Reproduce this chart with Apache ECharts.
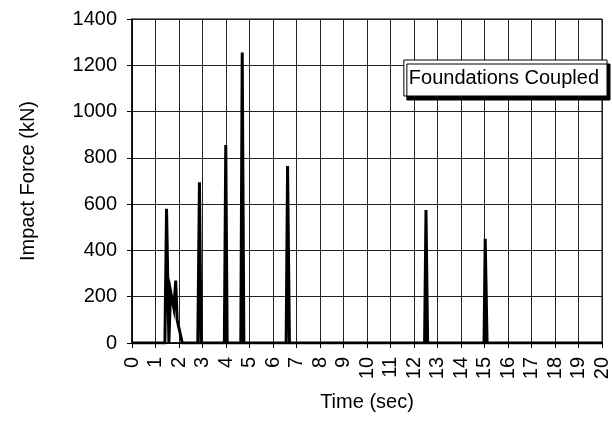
<!DOCTYPE html>
<html><head><meta charset="utf-8">
<script src="https://cdn.jsdelivr.net/npm/echarts@6/dist/echarts.min.js"></script>
<style>html,body{margin:0;padding:0;background:#fff}#c{width:612px;height:434px}</style>
</head><body><div id="c"></div>
<script>
var seriesName = 'Foundations Coupled';
var timeSec = [0, 1.40, 1.47, 1.57, 1.64, 1.72, 1.78, 1.86, 1.92, 2.14, 2.80, 2.87, 2.94, 3.93, 3.99, 4.05, 4.63, 4.69, 4.76, 6.56, 6.62, 6.70, 12.45, 12.51, 12.58, 14.98, 15.03, 15.11, 20];
var forceKN = [0, 0, 580, 0, 225, 230, 150, 270, 100, 0, 0, 695, 0, 0, 855, 0, 0, 1255, 0, 0, 765, 0, 0, 575, 0, 0, 450, 0, 0];
var xTicks = {min: 0, max: 20, interval: 1};
var yTicks = {min: 0, max: 1400, interval: 200};

var data = timeSec.map(function (t, i) { return [t, forceKN[i]]; });
var font = 'Liberation Sans';
var chart = echarts.init(document.getElementById('c'), null, {renderer: 'canvas'});
chart.setOption({
  animation: false,
  backgroundColor: '#fff',
  textStyle: {fontFamily: font},
  grid: {left: 132, right: 5, top: 19, bottom: 91, show: true, borderColor: '#000', borderWidth: 1, backgroundColor: 'transparent'},
  legend: {
    data: [{name: seriesName, icon: 'none'}],
    right: 5, top: 60, itemWidth: 0, itemHeight: 0,
    padding: [8, 8, 8, 0],
    backgroundColor: '#fff', borderColor: '#000', borderWidth: 1, borderRadius: 0,
    shadowColor: '#000', shadowBlur: 0, shadowOffsetX: 3, shadowOffsetY: 4,
    selectedMode: false,
    textStyle: {fontFamily: font, fontSize: 20, color: '#000'}
  },
  xAxis: {
    type: 'value', min: xTicks.min, max: xTicks.max, interval: xTicks.interval,
    name: 'Time (sec)', nameLocation: 'middle', nameGap: 49,
    nameTextStyle: {fontFamily: font, fontSize: 20, color: '#000'},
    axisLine: {show: true, onZero: false, lineStyle: {color: '#000', width: 1.5}},
    axisTick: {show: true, inside: false, length: 5, lineStyle: {color: '#000'}},
    axisLabel: {rotate: 90, margin: 14, fontFamily: font, fontSize: 20, color: '#000'},
    splitLine: {show: true, lineStyle: {color: '#222', width: 1}}
  },
  yAxis: {
    type: 'value', min: yTicks.min, max: yTicks.max, interval: yTicks.interval,
    name: 'Impact Force (kN)', nameLocation: 'middle', nameGap: 94,
    nameTextStyle: {fontFamily: font, fontSize: 20, color: '#000'},
    axisLine: {show: true, lineStyle: {color: '#000', width: 1.5}},
    axisTick: {show: true, inside: false, length: 5, lineStyle: {color: '#000'}},
    axisLabel: {margin: 15, fontFamily: font, fontSize: 20, color: '#000', formatter: function (v) { return String(v); }},
    splitLine: {show: true, lineStyle: {color: '#222', width: 1}}
  },
  series: [{
    name: seriesName, type: 'line', data: data,
    showSymbol: false, symbol: 'none',
    lineStyle: {color: '#000', width: 3, join: 'miter'},
    itemStyle: {color: '#000'}
  }]
});
</script></body></html>
